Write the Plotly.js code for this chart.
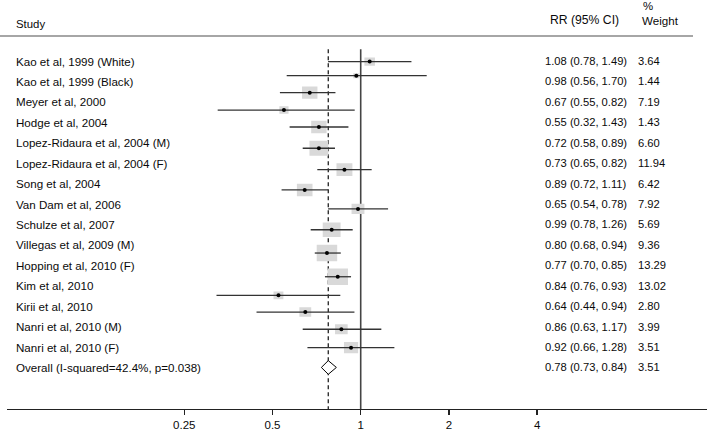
<!DOCTYPE html>
<html>
<head>
<meta charset="utf-8">
<script src="https://cdn.plot.ly/plotly-3.0.1.min.js"></script>
<style>html,body{margin:0;padding:0;background:#fff;}#chart{width:709px;height:432px;}</style>
</head>
<body>
<div id="chart"></div>
<script>
// ---------- data: table text ----------
const studies = [
  "Kao et al, 1999 (White)", "Kao et al, 1999 (Black)", "Meyer et al, 2000",
  "Hodge et al, 2004", "Lopez-Ridaura et al, 2004 (M)", "Lopez-Ridaura et al, 2004 (F)",
  "Song et al, 2004", "Van Dam et al, 2006", "Schulze et al, 2007",
  "Villegas et al, 2009 (M)", "Hopping et al, 2010 (F)", "Kim et al, 2010",
  "Kirii et al, 2010", "Nanri et al, 2010 (M)", "Nanri et al, 2010 (F)"
];
const rrVal   = [1.08, 0.98, 0.67, 0.55, 0.72, 0.73, 0.89, 0.65, 0.99, 0.80, 0.77, 0.84, 0.64, 0.86, 0.92];
const ciLow   = [0.78, 0.56, 0.55, 0.32, 0.58, 0.65, 0.72, 0.54, 0.78, 0.68, 0.70, 0.76, 0.44, 0.63, 0.66];
const ciHigh  = [1.49, 1.70, 0.82, 1.43, 0.89, 0.82, 1.11, 0.78, 1.26, 0.94, 0.85, 0.93, 0.94, 1.17, 1.28];
const weights = [3.64, 1.44, 7.19, 1.43, 6.60, 11.94, 6.42, 7.92, 5.69, 9.36, 13.29, 13.02, 2.80, 3.99, 3.51];
const overallLabel = "Overall (I-squared=42.4%, p=0.038)";
const overallRR = [0.78, 0.73, 0.84];
const overallWeight = 3.51;

// ---------- data: plotted marks ----------
const markRow  = [0.03, 0.72, 1.55, 2.40, 3.23, 4.27, 5.32, 6.31, 7.24, 8.26, 9.40, 10.56, 11.47, 12.29, 13.13, 14.03];
const markEst  = [1.073, 0.966, 0.67, 0.547, 0.72, 0.72, 0.88, 0.644, 0.979, 0.796, 0.767, 0.835, 0.524, 0.647, 0.859, 0.927];
const markLow  = [0.774, 0.559, 0.53, 0.325, 0.572, 0.634, 0.711, 0.537, 0.774, 0.675, 0.697, 0.755, 0.322, 0.441, 0.634, 0.658];
const markHigh = [1.49, 1.68, 0.82, 0.954, 0.908, 0.817, 1.09, 0.774, 1.24, 0.939, 0.855, 0.927, 0.852, 0.952, 1.176, 1.303];
const boxWeight = [3.55, 1.2, 7.6, 2.7, 7.6, 11.4, 8.1, 7.8, 5.3, 10.2, 13.4, 13.4, 3.1, 4.5, 5.1, 6.4];
const pooledMark = [0.775, 0.734, 0.826]; // estimate, low, high
const pooledRow = 15.0;

const tickVals = [0.25, 0.5, 1, 2, 4];
const tickText = ["0.25", "0.5", "1", "2", "4"];

// ---------- presentation ----------
const W = 709, H = 432;
const M = {l: 7, r: 2, t: 0, b: 23};
const plotW = W - M.l - M.r, plotH = H - M.t - M.b;
const pxPerDoubling = 88.2;
const xOnePx = 360.7;
const rowTopPx = 61, pxPerRow = 20.43;
const log2ToLog10 = Math.log10(2);
const xRange = [((M.l - xOnePx) / pxPerDoubling) * log2ToLog10, ((W - M.r - xOnePx) / pxPerDoubling) * log2ToLog10];
const yRange = [(M.t + plotH - rowTopPx) / pxPerRow, (M.t - rowTopPx) / pxPerRow];
const pxToRow = px => (px - rowTopPx) / pxPerRow;
const pxToPaperX = px => (px - M.l) / plotW;
const FONT = "Liberation Sans, Arial, sans-serif";
const txtColor = "#0a0a0a";

const traces = [];
const lineTop = pxToRow(49.3);
const lineBottom = yRange[0];
// null line at 1
traces.push({x: [1, 1], y: [lineTop, lineBottom], mode: "lines", line: {color: "#444", width: 1.6}, hoverinfo: "skip", showlegend: false});
// pooled dashed line
traces.push({x: [pooledMark[0], pooledMark[0]], y: [lineTop, lineBottom], mode: "lines", line: {color: "#222", width: 1.3, dash: "4px,3px"}, hoverinfo: "skip", showlegend: false});

// boxes
const bx = [], by = [];
const boxAreaPerWeight = 25, aspect = 1.25;
markRow.forEach((r, i) => {
  const area = boxWeight[i] * boxAreaPerWeight;
  const bw = Math.sqrt(area * aspect), bh = Math.sqrt(area / aspect);
  const dx = Math.pow(2, (bw / 2) / pxPerDoubling);
  const dy = (bh / 2) / pxPerRow;
  const x0 = markEst[i] / dx, x1 = markEst[i] * dx;
  bx.push(x0, x1, x1, x0, x0, null);
  by.push(r - dy, r - dy, r + dy, r + dy, r - dy, null);
});
traces.push({x: bx, y: by, mode: "lines", fill: "toself", fillcolor: "#d9d9d9", line: {width: 0, color: "#d9d9d9"}, hoverinfo: "skip", showlegend: false});

// CI lines
const cx = [], cy = [];
markRow.forEach((r, i) => { cx.push(markLow[i], markHigh[i], null); cy.push(r, r, null); });
traces.push({x: cx, y: cy, mode: "lines", line: {color: "#333", width: 1.3}, hoverinfo: "skip", showlegend: false});

// points
traces.push({x: markEst, y: markRow, mode: "markers", marker: {color: "#000", size: 4, symbol: "circle"}, hoverinfo: "skip", showlegend: false});

// diamond
const dh = 6.85 / pxPerRow;
traces.push({
  x: [pooledMark[1], pooledMark[0], pooledMark[2], pooledMark[0], pooledMark[1]],
  y: [pooledRow, pooledRow - dh, pooledRow, pooledRow + dh, pooledRow],
  mode: "lines", fill: "toself", fillcolor: "#fff", line: {color: "#000", width: 1}, hoverinfo: "skip", showlegend: false
});

// annotations
const annotations = [];
const fmt = v => v.toFixed(2);
function addText(text, px, row, size) {
  annotations.push({text: text, xref: "paper", yref: "y", x: pxToPaperX(px), y: row, xanchor: "left", yanchor: "middle",
    showarrow: false, borderpad: 0, font: {family: FONT, size: size, color: txtColor}});
}
const labelSize = 11.6, numSize = 11.2;
studies.forEach((s, i) => {
  addText(s, 15, i, labelSize);
  addText(fmt(rrVal[i]) + " (" + fmt(ciLow[i]) + ", " + fmt(ciHigh[i]) + ")", 543.5, i, numSize);
  addText(fmt(weights[i]), 637, i, numSize);
});
const oRow = studies.length;
addText(overallLabel, 15, oRow, labelSize);
addText(fmt(overallRR[0]) + " (" + fmt(overallRR[1]) + ", " + fmt(overallRR[2]) + ")", 543.5, oRow, numSize);
addText(fmt(overallWeight), 637, oRow, numSize);
// headers
addText("Study", 15, pxToRow(24), 11.4);
addText("RR (95% CI)", 549, pxToRow(20), 12.2);
addText("%", 642, pxToRow(6), 11.4);
addText("Weight", 641, pxToRow(20), 11.6);

const shapes = [{
  type: "line", xref: "paper", yref: "y", x0: pxToPaperX(0), x1: pxToPaperX(693), y0: pxToRow(36), y1: pxToRow(36),
  line: {color: "#888", width: 1.3}
}];

const layout = {
  width: W, height: H, margin: M,
  paper_bgcolor: "#fff", plot_bgcolor: "#fff",
  showlegend: false,
  xaxis: {
    type: "log", range: xRange, tickvals: tickVals, ticktext: tickText,
    ticks: "outside", ticklen: 5, tickwidth: 1.2, tickcolor: "#222",
    showline: true, linecolor: "#222", linewidth: 1.3, showgrid: false, zeroline: false,
    tickfont: {family: FONT, size: 11.5, color: txtColor}, fixedrange: true
  },
  yaxis: {range: yRange, visible: false, showgrid: false, zeroline: false, fixedrange: true},
  annotations: annotations,
  shapes: shapes
};
Plotly.newPlot("chart", traces, layout, {displayModeBar: false, staticPlot: true});
</script>
</body>
</html>
